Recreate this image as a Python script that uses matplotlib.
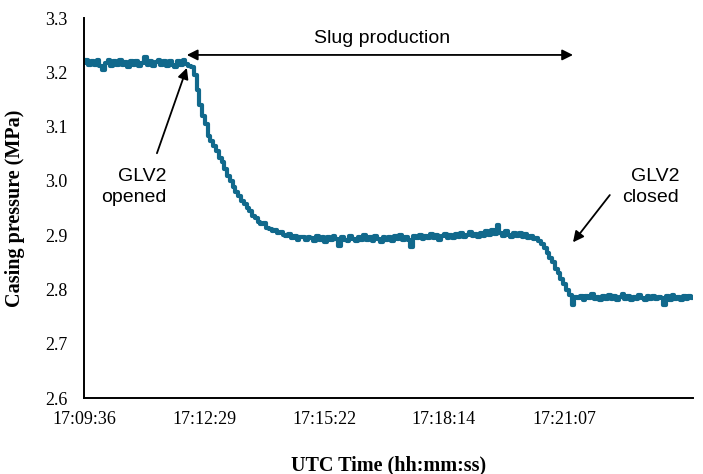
import numpy as np
import matplotlib
matplotlib.use("Agg")
import matplotlib.pyplot as plt

# casing pressure readings in kPa, one every 4 s starting 17:09:36
step_s = 4
before_open = [3218, 3222, 3213, 3220, 3214, 3223, 3212, 3205, 3218, 3222,
               3211, 3220, 3214, 3223, 3213, 3219, 3210, 3221, 3214, 3220,
               3212, 3218, 3229, 3214, 3221, 3211, 3219, 3222, 3213, 3220,
               3212, 3221, 3214, 3210, 3220, 3213, 3222, 3216, 3212]
first_drop = [3210, 3195, 3168, 3140, 3120, 3105, 3082, 3074, 3065, 3056,
              3042, 3035, 3022, 3010, 3000, 2988, 2980, 2972, 2963, 2958,
              2951, 2944, 2935, 2932, 2925, 2920, 2922, 2914, 2912, 2908,
              2910, 2904, 2906, 2900, 2898, 2903, 2894, 2899, 2892, 2897,
              2897, 2891, 2896]
slug_plateau = [2895, 2889, 2898, 2892, 2897, 2888, 2896, 2891, 2899, 2893,
                2880, 2897, 2892, 2890, 2898, 2893, 2889, 2897, 2892, 2900,
                2891, 2896, 2890, 2898, 2893, 2887, 2897, 2892, 2896, 2889,
                2898, 2893, 2900, 2891, 2897, 2892, 2878, 2898, 2894, 2901,
                2893, 2899, 2895, 2902, 2894, 2900, 2892, 2898, 2903, 2895,
                2900, 2894, 2902, 2896, 2904, 2897, 2901, 2906, 2898, 2903,
                2896, 2905, 2899, 2907, 2900, 2909, 2902, 2918, 2904, 2899,
                2907, 2901, 2897, 2905, 2899, 2904, 2896, 2902, 2895]
second_drop = [2898, 2893, 2895, 2889, 2884, 2877, 2868, 2858, 2850, 2838,
               2830, 2820, 2810, 2800, 2790, 2772, 2786]
after_close = [2784, 2789, 2781, 2788, 2784, 2791, 2782, 2787, 2780, 2789,
               2783, 2790, 2782, 2788, 2781, 2787, 2791, 2783, 2789, 2780,
               2787, 2782, 2790, 2784, 2781, 2788, 2783, 2789, 2782, 2787,
               2784, 2772, 2788, 2781, 2790, 2783, 2787, 2780, 2789, 2782,
               2788, 2784]
tick_labels = ["17:09:36", "17:12:29", "17:15:22", "17:18:14", "17:21:07"]


def to_sec(s):
    h, m, sec = [int(v) for v in s.split(":")]
    return h * 3600 + m * 60 + sec


pressure = np.array(before_open + first_drop + slug_plateau + second_drop + after_close) / 1000.0
t = np.arange(len(pressure)) * step_s
t0 = to_sec(tick_labels[0])
tick_pos = [to_sec(s) - t0 for s in tick_labels]

serif = "Liberation Serif"
sans = "Liberation Sans"

fig = plt.figure(figsize=(7.03, 4.74), dpi=100)
ax = fig.add_axes([0.1195, 0.160, 0.8665, 0.802])

ax.plot(t, pressure, color="#11698c", lw=3, drawstyle="steps-mid")

ax.set_xlim(0, 877)
ax.set_ylim(2.6, 3.3)
yt = np.arange(2.6, 3.31, 0.1)
ax.set_yticks(yt)
ax.set_yticklabels(["%.1f" % v for v in yt], family=serif, fontsize=13)
ax.set_xticks(tick_pos)
ax.set_xticklabels(tick_labels, family=serif, fontsize=13)
ax.tick_params(axis="y", length=0, pad=12)
ax.tick_params(axis="x", length=0, pad=9)

for side in ["top", "right"]:
    ax.spines[side].set_visible(False)
for side in ["left", "bottom"]:
    ax.spines[side].set_linewidth(1.4)
    ax.spines[side].set_color("black")

ax.set_xlabel("UTC Time (hh:mm:ss)", family=serif, fontsize=14.5, fontweight="bold", labelpad=20)
ax.set_ylabel("Casing pressure (MPa)", family=serif, fontsize=14.5, fontweight="bold", labelpad=14)

# annotations
arrow = dict(arrowstyle="-|>", color="black", lw=1.3, mutation_scale=16, shrinkA=0, shrinkB=0)
ax.annotate("", xy=(148, 3.232), xytext=(704, 3.232),
            arrowprops=dict(arrow, arrowstyle="<|-|>"))
ax.text(429, 3.263, "Slug production", family=sans, fontsize=14, ha="center", va="center")

ax.annotate("", xy=(148, 3.208), xytext=(105, 3.051), arrowprops=arrow)
ax.text(119, 2.989, "GLV2\nopened", family=sans, fontsize=14, ha="right", va="center",
        multialignment="right", linespacing=1.25)

ax.annotate("", xy=(704, 2.887), xytext=(757, 2.974), arrowprops=arrow)
ax.text(857, 2.989, "GLV2\nclosed", family=sans, fontsize=14, ha="right", va="center",
        multialignment="right", linespacing=1.25)

fig.savefig("out.png", dpi=100)
